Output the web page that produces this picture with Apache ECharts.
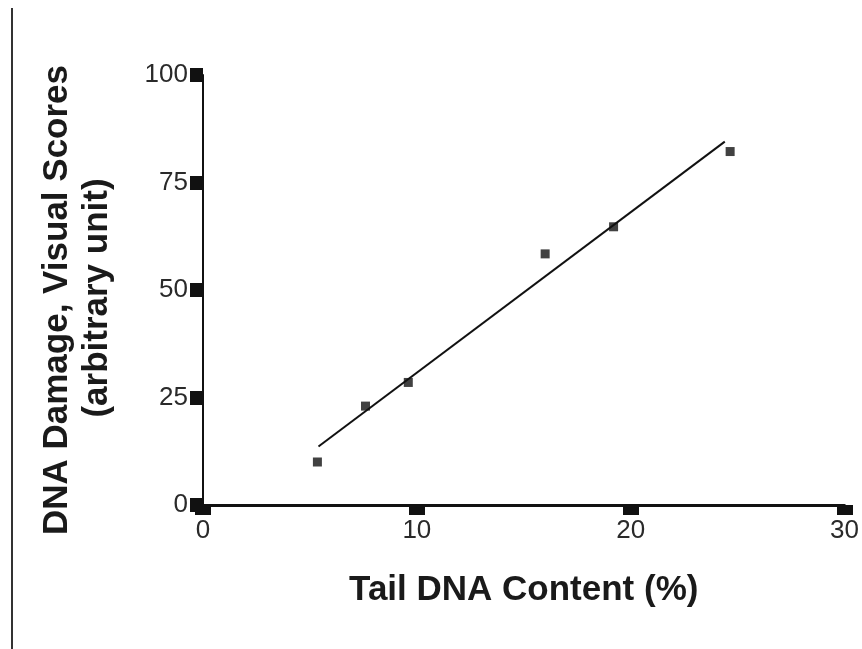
<!DOCTYPE html>
<html>
<head>
<meta charset="utf-8">
<script src="https://cdn.jsdelivr.net/npm/echarts@6/dist/echarts.min.js"></script>
<style>
html,body{margin:0;padding:0;background:#fff;}
#chart{width:862px;height:649px;}
</style>
</head>
<body>
<div id="chart"></div>
<script>
// Data
const tailDNA = [5.35, 7.6, 9.6, 16.0, 19.2, 24.65];
const visualScores = [10, 23, 28.5, 58.4, 64.7, 82.2];
const fitX = [5.4, 24.4];
const fitY = [13.6, 84.5];
const xTicks = [0, 10, 20, 30];
const yTicks = [0, 25, 50, 75, 100];
const xTitle = 'Tail DNA Content (%)';
const yTitle1 = 'DNA Damage, Visual Scores';
const yTitle2 = '(arbitrary unit)';

const chart = echarts.init(document.getElementById('chart'));
const font = '"Liberation Sans", Arial, Helvetica, sans-serif';
chart.setOption({
  animation: false,
  backgroundColor: '#fff',
  grid: { left: 203, right: 15, top: 75, bottom: 144, containLabel: false },
  xAxis: {
    type: 'value', min: xTicks[0], max: xTicks[xTicks.length - 1], interval: 10,
    name: xTitle, nameLocation: 'middle', nameGap: 68,
    nameTextStyle: { fontFamily: font, fontWeight: 'bold', fontSize: 35, color: '#1a1a1a' },
    axisLine: { show: true, onZero: false, lineStyle: { color: '#111', width: 3 } },
    axisTick: { show: true, length: 10, lineStyle: { color: '#111', width: 16 } },
    axisLabel: { margin: 13, fontFamily: font, fontSize: 26, color: '#2a2a2a' },
    splitLine: { show: false }
  },
  yAxis: {
    type: 'value', min: yTicks[0], max: yTicks[yTicks.length - 1], interval: 25,
    axisLine: { show: true, onZero: false, lineStyle: { color: '#111', width: 2 } },
    axisTick: { show: true, length: 13, lineStyle: { color: '#111', width: 14 } },
    axisLabel: { margin: 15, fontFamily: font, fontSize: 26, color: '#2a2a2a' },
    splitLine: { show: false }
  },
  graphic: [
    { type: 'line', shape: { x1: 12, y1: 8, x2: 12, y2: 649 }, style: { stroke: '#333', lineWidth: 2 } },
    { type: 'text', x: 57, y: 300, rotation: Math.PI / 2,
      style: { text: yTitle1, font: 'bold 35px ' + font, fill: '#1a1a1a', align: 'center', verticalAlign: 'middle' } },
    { type: 'text', x: 97, y: 298, rotation: Math.PI / 2,
      style: { text: yTitle2, font: 'bold 35px ' + font, fill: '#1a1a1a', align: 'center', verticalAlign: 'middle' } }
  ],
  series: [
    {
      type: 'line', data: fitX.map((x, i) => [x, fitY[i]]),
      symbol: 'none', lineStyle: { color: '#111', width: 2 }, z: 2
    },
    {
      type: 'scatter', data: tailDNA.map((x, i) => [x, visualScores[i]]),
      symbol: 'rect', symbolSize: 9, itemStyle: { color: '#111' }, z: 3
    }
  ]
});
</script>
</body>
</html>
